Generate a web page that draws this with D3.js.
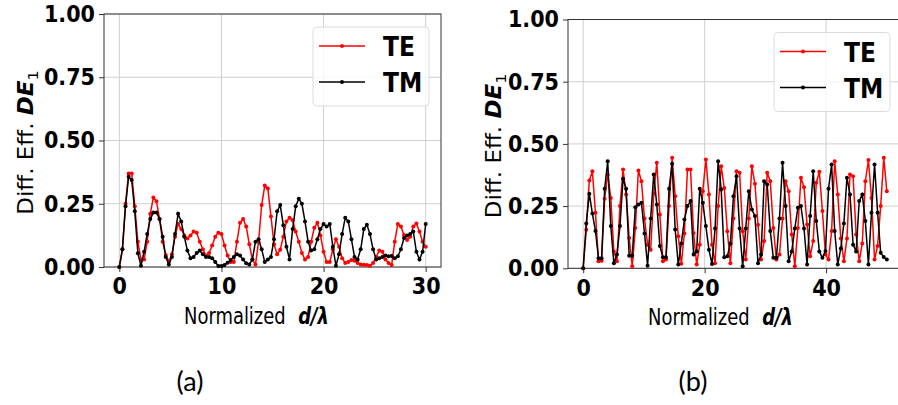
<!DOCTYPE html>
<html>
<head>
<meta charset="utf-8">
<script src="https://cdn.jsdelivr.net/npm/d3@7"></script>
<style>
body { margin: 0; background: #fff; }
text { font-family: "DejaVu Sans", sans-serif; }
</style>
</head>
<body>
<script>
var width = 898, height = 405;

// panel (a): d/lambda from 0 to 30, 100 samples
var teA = [0, 0.07, 0.25, 0.37, 0.37, 0.24, 0.10, 0.03, 0.03, 0.10,
  0.21, 0.275, 0.26, 0.19, 0.10, 0.047, 0.022, 0.05, 0.12, 0.17,
  0.15, 0.125, 0.113, 0.125, 0.14, 0.135, 0.10, 0.07, 0.045, 0.055,
  0.085, 0.12, 0.135, 0.13, 0.085, 0.045, 0.02, 0.02, 0.10, 0.175,
  0.19, 0.16, 0.09, 0.03, 0.01, 0.10, 0.245, 0.322, 0.31, 0.20,
  0.09, 0.05, 0.068, 0.12, 0.18, 0.195, 0.185, 0.14, 0.10, 0.055,
  0.03, 0.04, 0.10, 0.155, 0.175, 0.125, 0.06, 0.02, 0.02, 0.07,
  0.11, 0.08, 0.035, 0.016, 0.02, 0.028, 0.025, 0.016, 0.01, 0.009,
  0.008, 0.005, 0.016, 0.04, 0.065, 0.06, 0.03, 0.016, 0.008, 0.10,
  0.17, 0.16, 0.126, 0.107, 0.12, 0.16, 0.172, 0.14, 0.10, 0.08];
var tmA = [0, 0.07, 0.24, 0.357, 0.344, 0.22, 0.054, 0.005, 0.06, 0.13,
  0.19, 0.215, 0.215, 0.19, 0.12, 0.04, 0.01, 0.04, 0.13, 0.21,
  0.18, 0.12, 0.065, 0.035, 0.04, 0.055, 0.065, 0.05, 0.04, 0.04,
  0.035, 0.02, 0.004, 0.004, 0.008, 0.017, 0.028, 0.04, 0.05, 0.045,
  0.03, 0.015, 0.01, 0.03, 0.10, 0.11, 0.07, 0.02, 0.03, 0.04,
  0.11, 0.22, 0.245, 0.165, 0.08, 0.03, 0.15, 0.24, 0.27, 0.25,
  0.18, 0.10, 0.065, 0.07, 0.11, 0.15, 0.17, 0.16, 0.17, 0.08,
  0.005, 0.05, 0.13, 0.195, 0.18, 0.11, 0.04, 0.03, 0.07, 0.15,
  0.167, 0.13, 0.07, 0.03, 0.035, 0.04, 0.045, 0.042, 0.043, 0.035,
  0.042, 0.07, 0.115, 0.125, 0.13, 0.14, 0.06, 0.03, 0.06, 0.17];

// panel (b): d/lambda from 0 to 50, 100 samples
var teB = [0, 0.155, 0.353, 0.39, 0.223, 0.028, 0.03, 0.28, 0.377, 0.283,
  0.068, 0.028, 0.25, 0.397, 0.297, 0.122, 0.008, 0.162, 0.393, 0.35,
  0.2, 0.095, 0.075, 0.3, 0.424, 0.216, 0.028, 0.035, 0.25, 0.444,
  0.29, 0.129, 0.018, 0.14, 0.397, 0.397, 0.142, 0.015, 0.095, 0.31,
  0.437, 0.297, 0.095, 0.02, 0.25, 0.41, 0.323, 0.149, 0.02, 0.2,
  0.39, 0.384, 0.149, 0.035, 0.2, 0.41, 0.34, 0.175, 0.035, 0.11,
  0.384, 0.35, 0.162, 0.035, 0.055, 0.2, 0.35, 0.31, 0.136, 0.008,
  0.162, 0.364, 0.326, 0.176, 0.048, 0.11, 0.344, 0.388, 0.23, 0.055,
  0.035, 0.15, 0.43, 0.297, 0.12, 0.028, 0.12, 0.377, 0.37, 0.136,
  0.028, 0.1, 0.35, 0.435, 0.283, 0.035, 0.09, 0.25, 0.444, 0.31];
var tmB = [0, 0.18, 0.30, 0.22, 0.15, 0.04, 0.04, 0.32, 0.43, 0.17,
  0.02, 0.055, 0.17, 0.36, 0.32, 0.05, 0.05, 0.245, 0.256, 0.263,
  0.14, 0.01, 0.20, 0.377, 0.256, 0.09, 0.044, 0.044, 0.32, 0.42,
  0.156, 0.015, 0.10, 0.196, 0.25, 0.27, 0.055, 0.068, 0.32, 0.263,
  0.17, 0.075, 0.017, 0.16, 0.43, 0.317, 0.044, 0.048, 0.10, 0.29,
  0.37, 0.16, 0.008, 0.16, 0.31, 0.236, 0.21, 0.02, 0.055, 0.35,
  0.337, 0.15, 0.042, 0.042, 0.2, 0.424, 0.25, 0.028, 0.068, 0.16,
  0.243, 0.25, 0.16, 0.015, 0.21, 0.39, 0.19, 0.068, 0.042, 0.07,
  0.32, 0.417, 0.15, 0.015, 0.08, 0.18, 0.364, 0.297, 0.095, 0.068,
  0.27, 0.297, 0.19, 0.015, 0.223, 0.417, 0.223, 0.062, 0.045, 0.035];

var xMaxA = 30, xMaxB = 50;
var xTicksA = [0, 10, 20, 30];
var xTicksB = [0, 20, 40];
var yTicks = [0, 0.25, 0.5, 0.75, 1];
var seriesNames = ["TE", "TM"];
var seriesColors = ["#ff0000", "#000000"];
var panelLabels = ["(a)", "(b)"];

var squeeze = 0.9; // the source image is a bit narrower than tall

var svg = d3.select("body").append("svg")
    .attr("width", width).attr("height", height)
    .style("background", "#fff");

function drawPanel(p) {
  var xs = d3.range(p.te.length).map(function(i) { return i * p.xMax / (p.te.length - 1); });
  var x = d3.scaleLinear().domain([-0.05 * p.xMax, 1.05 * p.xMax]).range([p.left, p.right]);
  var y = d3.scaleLinear().domain([0, 1]).range([p.bottom, p.top]);
  var g = svg.append("g");

  // grid
  g.append("g").selectAll("line").data(p.xTicks).join("line")
    .attr("x1", function(d) { return x(d); }).attr("x2", function(d) { return x(d); })
    .attr("y1", p.top).attr("y2", p.bottom)
    .attr("stroke", "#cfcfcf").attr("stroke-width", 1);
  g.append("g").selectAll("line").data(yTicks).join("line")
    .attr("x1", p.left).attr("x2", p.right)
    .attr("y1", function(d) { return y(d); }).attr("y2", function(d) { return y(d); })
    .attr("stroke", "#cfcfcf").attr("stroke-width", 1);

  // axes
  var xAxis = g.append("g").attr("transform", "translate(0," + p.bottom + ")")
    .call(d3.axisBottom(x).tickValues(p.xTicks).tickSize(5).tickPadding(6).tickFormat(d3.format("d")));
  var yAxis = g.append("g").attr("transform", "translate(" + p.left + ",0)")
    .call(d3.axisLeft(y).tickValues(yTicks).tickSize(5).tickPadding(5).tickFormat(d3.format(".2f")));
  [xAxis, yAxis].forEach(function(a) {
    a.select(".domain").remove();
    a.attr("font-family", "DejaVu Sans").attr("font-size", 23).attr("font-weight", "bold");
    a.selectAll("line").attr("stroke", "#333");
    a.selectAll("text").attr("fill", "#000").attr("transform", "scale(" + squeeze + ",1)");
  });

  // frame
  g.append("rect")
    .attr("x", p.left).attr("y", p.top)
    .attr("width", p.right - p.left).attr("height", p.bottom - p.top)
    .attr("fill", "none").attr("stroke", "#333").attr("stroke-width", 1);

  // series, TE under TM
  var line = d3.line().x(function(d) { return x(d[0]); }).y(function(d) { return y(d[1]); });
  [p.te, p.tm].forEach(function(vals, k) {
    var pts = vals.map(function(v, i) { return [xs[i], v]; });
    g.append("path").datum(pts).attr("d", line)
      .attr("fill", "none").attr("stroke", seriesColors[k]).attr("stroke-width", 1.5);
    g.append("g").selectAll("circle").data(pts).join("circle")
      .attr("cx", function(d) { return x(d[0]); }).attr("cy", function(d) { return y(d[1]); })
      .attr("r", 2).attr("fill", seriesColors[k]);
  });

  // legend
  var bx = p.right - 128, by = p.top + 13;
  var lg = g.append("g").attr("transform", "translate(" + bx + "," + by + ")");
  lg.append("rect").attr("width", 116).attr("height", 79).attr("rx", 4)
    .attr("fill", "#fff").attr("fill-opacity", 0.8)
    .attr("stroke", "#dcdcdc").attr("stroke-width", 1);
  var item = lg.selectAll(".legends").data(seriesNames).join("g").classed("legends", true)
    .attr("transform", function(d, i) { return "translate(0," + (19 + i * 36) + ")"; });
  item.append("line").attr("x1", 6).attr("x2", 52)
    .attr("stroke", function(d, i) { return seriesColors[i]; }).attr("stroke-width", 1.5);
  item.append("circle").attr("cx", 29).attr("r", 2)
    .attr("fill", function(d, i) { return seriesColors[i]; });
  item.append("text")
    .attr("transform", "translate(70,10) scale(" + squeeze + ",1)")
    .attr("font-size", 26).attr("font-weight", "bold")
    .text(function(d) { return d; });

  // x label
  var xl = g.append("text")
    .attr("transform", "translate(" + p.xLabelX + "," + (p.bottom + 57) + ") scale(0.78,1)")
    .attr("font-size", 23);
  xl.append("tspan").text("Normalized");
  xl.append("tspan").attr("dx", 16).attr("font-weight", "bold").attr("font-style", "italic").text("d/λ");

  // y label
  var yl = g.append("text")
    .attr("transform", "translate(" + p.yLabelX + "," + ((p.top + p.bottom) / 2 + 2) + ") rotate(-90) scale(1," + squeeze + ")")
    .attr("text-anchor", "middle").attr("font-size", 23);
  yl.append("tspan").text("Diff. Eff. ");
  yl.append("tspan").attr("font-weight", "bold").attr("font-style", "italic").text("DE");
  yl.append("tspan").attr("font-size", 16).attr("dy", 5).text("1");

  // panel caption
  svg.append("text")
    .attr("x", p.captionX).attr("y", 391)
    .attr("text-anchor", "middle")
    .style("font-family", "Lato, 'Open Sans', sans-serif").attr("font-size", 27)
    .text(p.caption);
}

drawPanel({ te: teA, tm: tmA, xMax: xMaxA, xTicks: xTicksA,
  left: 104, right: 441, top: 14, bottom: 267, yLabelX: 33, xLabelX: 184, captionX: 190, caption: panelLabels[0] });
drawPanel({ te: teB, tm: tmB, xMax: xMaxB, xTicks: xTicksB,
  left: 568, right: 902, top: 19.5, bottom: 268.3, yLabelX: 501, xLabelX: 648, captionX: 693, caption: panelLabels[1] });
</script>
</body>
</html>
